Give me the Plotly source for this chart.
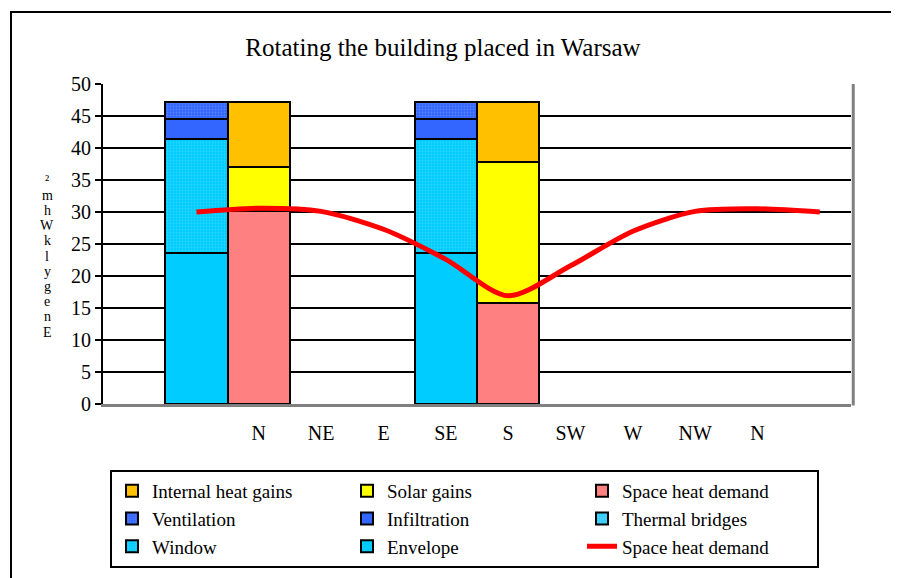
import plotly.graph_objects as go

# category slots on the x axis (numeric positions 0..11)
tick_pos = [2, 3, 4, 5, 6, 7, 8, 9, 10]
tick_labels = ['N', 'NE', 'E', 'SE', 'S', 'SW', 'W', 'NW', 'N']

# heat losses bar (left) and heat balance bar (right) of each pair
x_losses = [1, 5]
x_gains = [2, 6]

envelope = [23.6, 23.6]
window = [17.8, 17.8]
thermal_bridges = [0.0, 0.0]
infiltration = [3.1, 3.1]
ventilation = [2.7, 2.7]

space_heat_bar = [30.1, 15.8]
solar_gains = [7.0, 22.0]
internal_gains = [10.1, 9.4]

# space heat demand curve for each orientation
x_line = [1, 2, 3, 4, 5, 6, 7, 8, 9, 10, 11]
space_heat_line = [30.0, 30.6, 30.1, 27.3, 22.6, 16.9, 21.6, 27.0, 30.1, 30.5, 30.0]

FONT = 'Liberation Serif'
W, H = 899, 578
OFF = 8  # page body margin of the html
L, T = 103 - OFF, 84 - OFF
PW, PH = 748, 320
R, B = W - L - PW, H - T - PH


def px_x(x):
    # page pixel -> paper fraction of plot area
    return (x - OFF - L) / PW


def px_y(y):
    return (T + PH - (y - OFF)) / PH


fig = go.Figure()

outline = dict(color='black', width=2)


def add_bar(x, y, name, color, pattern=False):
    marker = dict(color=color, line=outline)
    if pattern:
        marker['pattern'] = dict(shape='.', fgcolor='rgba(255,255,255,0.35)',
                                 bgcolor=color, size=3, solidity=0.3)
    fig.add_trace(go.Bar(x=x, y=y, name=name, width=1.0, marker=marker))


# losses stack (bottom to top)
add_bar(x_losses, envelope, 'Envelope', '#00CCFF')
add_bar(x_losses, window, 'Window', '#00CCFF', pattern=True)
add_bar(x_losses, thermal_bridges, 'Thermal bridges', '#33CCFF', pattern=True)
add_bar(x_losses, infiltration, 'Infiltration', '#3366FF')
add_bar(x_losses, ventilation, 'Ventilation', '#3366FF', pattern=True)

# gains stack (bottom to top)
add_bar(x_gains, space_heat_bar, 'Space heat demand', '#FF8080')
add_bar(x_gains, solar_gains, 'Solar gains', '#FFFF00')
add_bar(x_gains, internal_gains, 'Internal heat gains', '#FFC000')

fig.add_trace(go.Scatter(
    x=x_line, y=space_heat_line, name='Space heat demand', mode='lines',
    line=dict(color='#FF0000', width=5, shape='spline', smoothing=0.8),
))

# legend entries ordered row by row as in the source (3 columns)
order = ['Internal heat gains', 'Solar gains', 'Space heat demand',
         'Ventilation', 'Infiltration', 'Thermal bridges',
         'Window', 'Envelope', 'Space heat demand line']
for tr in fig.data:
    key = tr.name if tr.type == 'bar' else tr.name + ' line'
    tr.legendrank = order.index(key) + 1

fig.update_layout(
    width=W, height=H,
    margin=dict(l=L, r=R, t=T, b=B, autoexpand=False),
    paper_bgcolor='white', plot_bgcolor='white',
    font=dict(family=FONT, size=18, color='black'),
    barmode='stack', bargap=0,
    title=dict(text='Rotating the building placed in Warsaw',
               font=dict(family=FONT, size=25, color='black'),
               xref='container', yref='container',
               x=(443 - OFF) / W, y=1 - (47 - OFF) / H,
               xanchor='center', yanchor='middle'),
    showlegend=True,
    legend=dict(
        orientation='h', xref='paper', yref='paper',
        x=px_x(110), y=px_y(470), xanchor='left', yanchor='top',
        entrywidth=190, entrywidthmode='pixels',
        bgcolor='white', bordercolor='black', borderwidth=2,
        font=dict(family=FONT, size=19, color='black'),
        traceorder='normal', itemwidth=30,
    ),
)

fig.update_xaxes(
    range=[-0.5, 11.5], tickmode='array', tickvals=tick_pos, ticktext=tick_labels,
    showgrid=False, zeroline=False, showline=True, linecolor='#808080', linewidth=3,
    ticks='', ticklabelstandoff=9,
    tickfont=dict(family=FONT, size=20, color='black'),
)
fig.update_yaxes(
    range=[0, 50], dtick=5, showgrid=True, gridcolor='black', gridwidth=2,
    zeroline=False, showline=True, linecolor='black', linewidth=2,
    ticks='outside', ticklen=6, tickwidth=2, tickcolor='black',
    tickfont=dict(family=FONT, size=20, color='black'),
)

# gray plot-area frame on the right side
fig.add_shape(type='line', xref='paper', yref='paper', x0=1.003, x1=1.003, y0=-0.005, y1=1,
              line=dict(color='#808080', width=3))

# outer chart frame
fig.add_shape(type='rect', xref='paper', yref='paper',
              x0=px_x(11), x1=px_x(893), y0=px_y(12), y1=px_y(600),
              line=dict(color='black', width=2), layer='below')

# y-axis title rendered as stacked glyphs, as in the source
glyphs = ['\u00b2', 'm', 'h', 'W', 'k', 'l', 'y', 'g', 'e', 'n', 'E']
for i, ch in enumerate(glyphs):
    fig.add_annotation(text=ch, xref='paper', yref='paper',
                       x=px_x(47), y=px_y(180 + i * 15.2),
                       showarrow=False, xanchor='center', yanchor='middle',
                       font=dict(family=FONT, size=14, color='black'))

fig.write_html('out.html')
